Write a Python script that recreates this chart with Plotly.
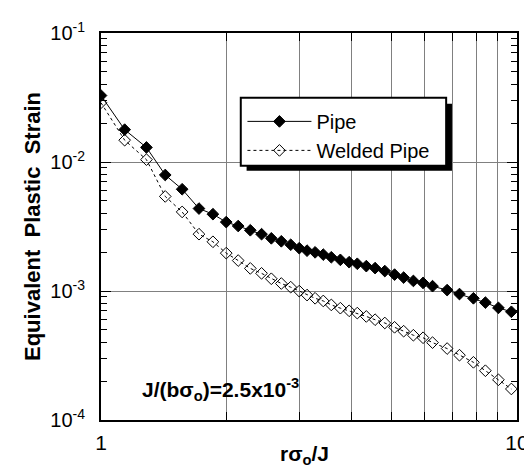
import plotly.graph_objects as go

# r*sigma_o/J values (shared by both series)
r_sigma_over_J = [1.000, 1.140, 1.286, 1.427, 1.567, 1.720, 1.858, 2.000, 2.137, 2.285,
                  2.432, 2.567, 2.713, 2.858, 2.996, 3.128, 3.271, 3.422, 3.578, 3.762,
                  3.949, 4.131, 4.343, 4.559, 4.811, 5.078, 5.340, 5.635, 5.946, 6.266,
                  6.793, 7.273, 7.857, 8.395, 9.022, 9.692]

pipe_strain = [0.03275, 0.01781, 0.01297, 0.00793, 0.00615, 0.004356, 0.003940, 0.003422,
               0.003190, 0.002957, 0.002757, 0.002561, 0.002428, 0.002284, 0.002147,
               0.002055, 0.001994, 0.001915, 0.001826, 0.001744, 0.001672, 0.001626,
               0.001559, 0.001505, 0.001427, 0.001340, 0.001271, 0.001197, 0.001155,
               0.001090, 0.001016, 0.000947, 0.000878, 0.000813, 0.000740, 0.000690]

welded_strain = [0.02880, 0.01476, 0.01043, 0.005409, 0.004102, 0.002757, 0.002407,
                 0.001966, 0.001722, 0.001497, 0.001370, 0.001244, 0.001143, 0.001071,
                 0.000998, 0.000930, 0.000878, 0.000837, 0.000780, 0.000736, 0.000702,
                 0.000674, 0.000635, 0.000599, 0.000565, 0.000523, 0.000488, 0.000454,
                 0.000434, 0.000398, 0.000358, 0.000318, 0.000280, 0.000241, 0.000205,
                 0.000174]

x_tickvals = [1, 10]
x_ticktext = ["1", "10"]
x_minor = [2, 3, 4, 5, 6, 7, 8, 9]
y_tickvals = [1e-4, 1e-3, 1e-2, 1e-1]
y_ticktext = ["10<sup>-4</sup>", "10<sup>-3</sup>", "10<sup>-2</sup>", "10<sup>-1</sup>"]
y_minor = [m * 10.0 ** e for e in (-4, -3, -2) for m in range(2, 10)]

FONT = "Arial, Liberation Sans, Helvetica, sans-serif"

fig = go.Figure()
fig.add_trace(go.Scatter(
    x=r_sigma_over_J, y=pipe_strain, name="Pipe", mode="lines+markers",
    line=dict(color="black", width=1),
    marker=dict(symbol="diamond", size=9, color="black", line=dict(color="black", width=1)),
))
fig.add_trace(go.Scatter(
    x=r_sigma_over_J, y=welded_strain, name="Welded Pipe", mode="lines+markers",
    line=dict(color="black", width=1, dash="dot"),
    marker=dict(symbol="diamond-open", size=9, color="black", line=dict(color="black", width=1)),
))

fig.update_layout(
    width=532, height=472,
    margin=dict(l=93, r=11, t=19, b=60),
    paper_bgcolor="white", plot_bgcolor="white",
    font=dict(family=FONT, size=20, color="black"),
    showlegend=True,
    legend=dict(
        x=0.34, y=0.822, xanchor="left", yanchor="top",
        bgcolor="rgba(0,0,0,0)", borderwidth=0,
        font=dict(size=20), itemwidth=64, tracegroupgap=0,
    ),
    xaxis=dict(
        type="log", range=[0, 1],
        tickvals=x_tickvals, ticktext=x_ticktext,
        ticks="inside", ticklen=8, tickcolor="black", tickwidth=1,
        showgrid=True, gridcolor="#808080", gridwidth=1,
        showline=True, linecolor="black", linewidth=2, mirror="ticks",
        tickfont=dict(size=21), ticklabelstandoff=3,
        minor=dict(tickvals=x_minor, ticks="inside", ticklen=8, tickcolor="black",
                   showgrid=True, gridcolor="#808080", gridwidth=1),
    ),
    yaxis=dict(
        type="log", range=[-4, -1],
        tickvals=y_tickvals, ticktext=y_ticktext,
        ticks="inside", ticklen=10, tickcolor="black", tickwidth=1,
        showgrid=True, gridcolor="#808080", gridwidth=1,
        showline=True, linecolor="black", linewidth=2, mirror="ticks",
        tickfont=dict(size=20), ticklabelstandoff=10,
        minor=dict(tickvals=y_minor, ticks="inside", ticklen=6, tickcolor="black",
                   showgrid=False),
        title=dict(text="<b>Equivalent  Plastic  Strain</b>", font=dict(size=22), standoff=4),
    ),
    shapes=[
        # white panel behind the parameter note (hides gridlines)
        dict(type="rect", xref="paper", yref="paper", x0=0.016, x1=0.54, y0=0.02, y1=0.165,
             fillcolor="white", line=dict(width=0), layer="between"),
        # legend drop shadow
        dict(type="rect", xref="paper", yref="paper", x0=0.35, x1=0.8437, y0=0.644, y1=0.817,
             fillcolor="black", line=dict(width=0), layer="above"),
        # legend box
        dict(type="rect", xref="paper", yref="paper", x0=0.336, x1=0.8297, y0=0.657, y1=0.8326,
             fillcolor="white", line=dict(color="black", width=2), layer="above"),
    ],
    annotations=[
        dict(text="<b>J/(bσ<sub>o</sub>)=2.5x10<sup>-3</sup></b>", xref="paper", yref="paper",
             x=0.287, y=0.08, xanchor="center", yanchor="middle", showarrow=False,
             font=dict(size=21)),
        dict(text="<b>rσ<sub>o</sub>/J</b>", xref="paper", yref="paper",
             x=0.49, y=-0.09, xanchor="center", yanchor="middle", showarrow=False,
             font=dict(size=21)),
    ],
)

fig.write_html("out.html")
